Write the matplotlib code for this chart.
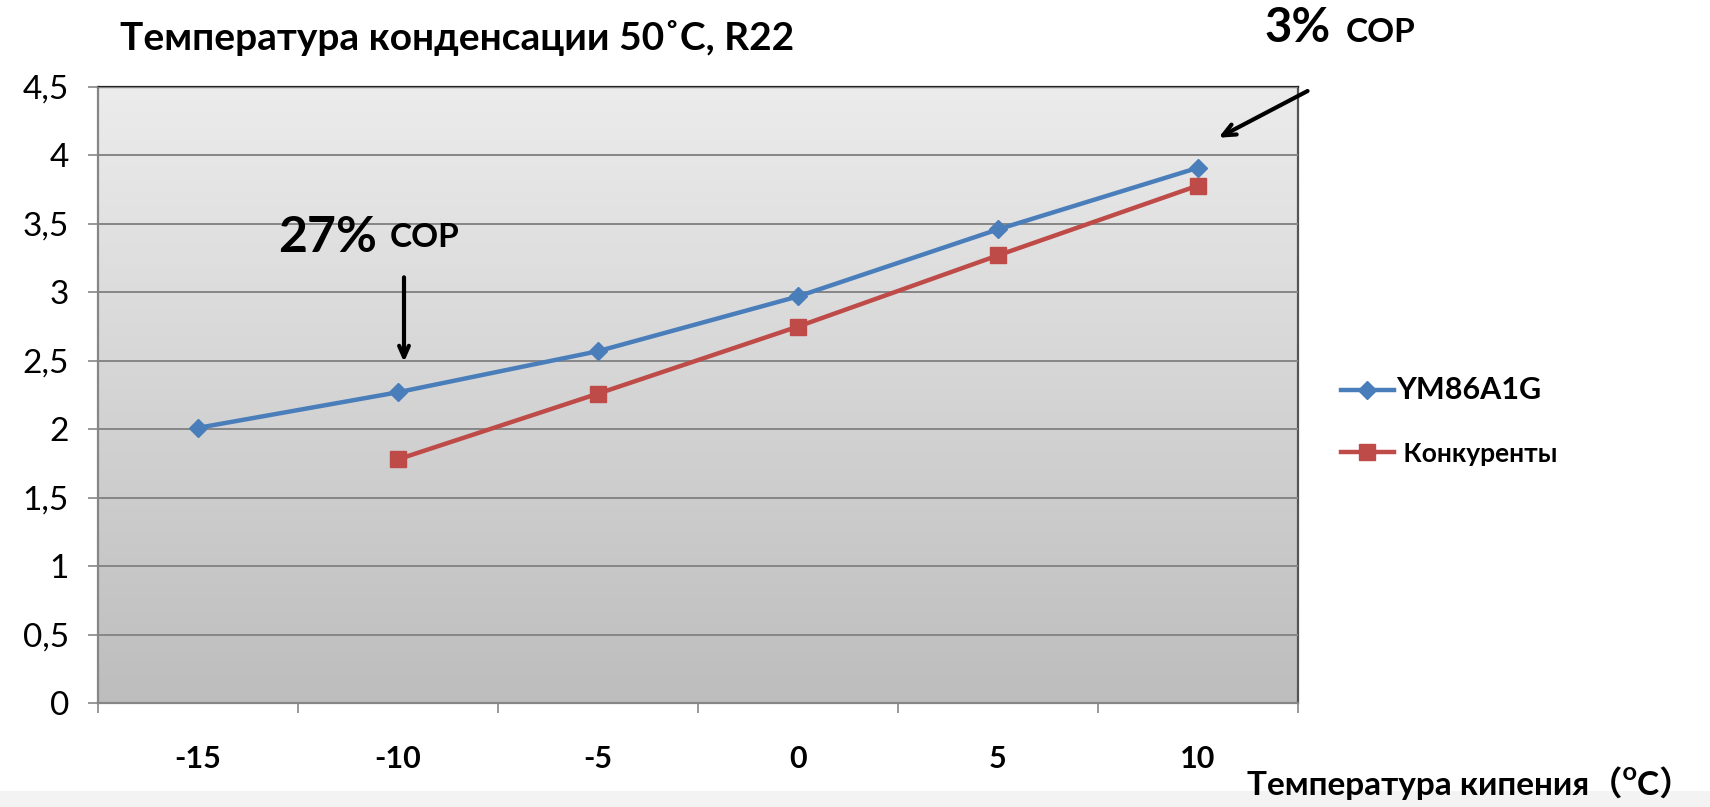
import numpy as np
import matplotlib
matplotlib.use("Agg")
import matplotlib.pyplot as plt
from matplotlib.colors import LinearSegmentedColormap
from matplotlib.lines import Line2D

plt.rcParams['font.family'] = ['Lato', 'Open Sans', 'DejaVu Sans', 'Noto Sans CJK SC']

# Data
categories = ['-15', '-10', '-5', '0', '5', '10']
ym86 = [2.01, 2.27, 2.57, 2.97, 3.46, 3.91]
rivals = [None, 1.78, 2.26, 2.75, 3.27, 3.78]
y_ticks = [0, 0.5, 1, 1.5, 2, 2.5, 3, 3.5, 4, 4.5]
y_labels = ['0', '0,5', '1', '1,5', '2', '2,5', '3', '3,5', '4', '4,5']

BLUE = '#4A7EBB'
RED = '#BE4B48'
GRID = '#868686'

W, H = 1710, 807
fig = plt.figure(figsize=(W / 100, H / 100), dpi=100)
fig.patch.set_facecolor('white')

# light band along the bottom of the picture
fig.add_artist(plt.Rectangle((0, 0), 1, 16 / H, transform=fig.transFigure,
                             facecolor='#f3f3f3', edgecolor='none', zorder=0))

ax = fig.add_axes([98 / W, 1 - 703 / H, 1200 / W, 616 / H])

# gradient plot background
grad = np.linspace(0, 1, 256).reshape(-1, 1)
cmap = LinearSegmentedColormap.from_list('bg', ['#bdbdbd', '#ececec'])
ax.imshow(grad, extent=[0, 1, 0, 1], transform=ax.transAxes, origin='lower',
          aspect='auto', cmap=cmap, zorder=0)

x = np.arange(len(categories))
ax.plot(x, ym86, color=BLUE, lw=3.2, marker='D', ms=9, zorder=3)
rx = [i for i, v in enumerate(rivals) if v is not None]
ry = [v for v in rivals if v is not None]
ax.plot(rx, ry, color=RED, lw=3.2, marker='s', ms=11, zorder=3)

ax.set_xlim(-0.5, len(categories) - 0.5)
ax.set_ylim(0, 4.5)

ax.set_yticks(y_ticks)
ax.set_yticklabels(y_labels, fontsize=24)
ax.yaxis.grid(True, color=GRID, lw=1.4)
ax.set_axisbelow(False)
for gl in ax.get_ygridlines():
    gl.set_zorder(1)

ax.set_xticks(x)
ax.set_xticklabels(categories, fontsize=22, fontweight='bold')
ax.set_xticks(np.arange(-0.5, len(categories)), minor=True)
ax.tick_params(axis='x', which='major', length=0, pad=30)
ax.tick_params(axis='x', which='minor', length=7, color=GRID, width=1.2)
ax.tick_params(axis='y', length=7, color=GRID, width=1.2, pad=14)

ax.spines['left'].set_color(GRID)
ax.spines['bottom'].set_color(GRID)
ax.spines['top'].set_color('#222222')
ax.spines['right'].set_color('#555555')
for s in ax.spines.values():
    s.set_linewidth(1.6)

# title
fig.text(120 / W, 1 - 38 / H, 'Температура конденсации 50˚C, R22',
         fontsize=28, fontweight='bold', va='center', ha='left')

# x axis label
fig.text(1247 / W, 1 - 783 / H, 'Температура кипения（ᴼC）',
         fontsize=24, fontweight='bold', va='center', ha='left')

# annotations
ax.text(0.40, 3.4, '27%', fontsize=36, fontweight='bold', va='center', ha='left')
ax.text(0.96, 3.4, 'COP', fontsize=24, fontweight='bold', va='center', ha='left')
ax.annotate('', xy=(1.03, 2.47), xytext=(1.03, 3.13),
            arrowprops=dict(arrowstyle='->,head_width=0.35,head_length=0.8',
                            color='black', lw=3))

fig.text(1264 / W, 1 - 28 / H, '3%', fontsize=34, fontweight='bold', va='center', ha='left')
fig.text(1346 / W, 1 - 33 / H, 'COP', fontsize=24, fontweight='bold', va='center', ha='left')
ax.annotate('', xy=(5.09, 4.12), xytext=(5.56, 4.48),
            arrowprops=dict(arrowstyle='->,head_width=0.4,head_length=0.9',
                            color='black', lw=3),
            annotation_clip=False)

# legend
handles = [Line2D([], [], color=BLUE, lw=3.2, marker='D', ms=9),
           Line2D([], [], color=RED, lw=3.2, marker='s', ms=11)]
leg = ax.legend(handles, ['YM86A1G', ' Конкуренты'], loc='center left',
                bbox_to_anchor=(1316 / W, 1 - 421 / H), bbox_transform=fig.transFigure,
                frameon=False, prop={'size': 20, 'weight': 'bold'},
                handlelength=1.9, handletextpad=0.1, labelspacing=1.35)
leg.get_texts()[0].set_fontsize(22)
leg.get_texts()[1].set_fontsize(19)

fig.savefig('out.png', dpi=100, facecolor=fig.get_facecolor())
